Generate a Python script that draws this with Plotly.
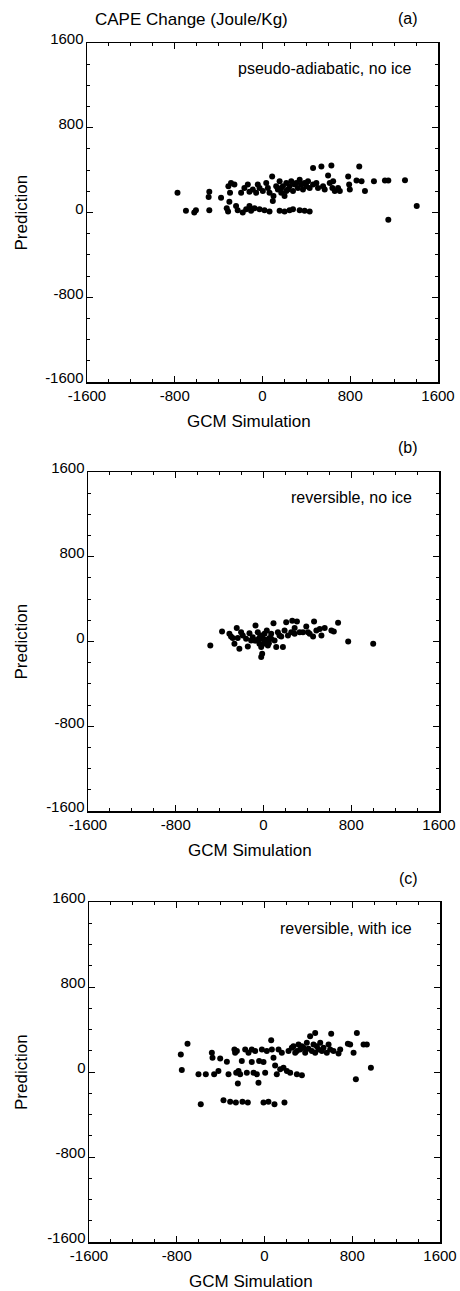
import plotly.graph_objects as go

# ---------------- data ----------------
a_x = [-775, -698, -622, -607, -485, -485, -491, -378, -311, -296, -302, -326, -314, -256,
       -241, -226, -180, -149, -119, -104, -73, -27, 18, 64, 156, 201, 247, 278, 339, 384, 430,
       -195, -165, -134, -119, -88, -58, -43, -27, 3, 34, 49, 64, 88, 94, 100, 125, 140, 156,
       171, 186, 201, 217, 232, 247, 262, 278, 293, 308, 323, 339, 354, 369, 384, 400, 415, 430,
       461, 461, 491, 506, 537, 552, 567, 598, 613, 628, 637, 644, 659, 689, 705, 781, 790, 796,
       857, 882, 903, 934, 1016, 1116, 1147, 1299, 1147, 1406, 171, 217, -287]
a_y = [186, 16, 0, 22, 22, 195, 146, 140, 248, 186, 102, 40, 9, 264,
       62, 22, 0, 31, 62, 16, 40, 31, 22, 9, 16, 9, 22, 31, 22, 16, 9,
       186, 232, 264, 195, 217, 186, 264, 232, 202, 279, 232, 186, 341, 108, 155, 248, 217, 295,
       186, 248, 155, 279, 217, 248, 295, 202, 264, 279, 232, 310, 264, 217, 279, 248, 295, 232,
       419, 264, 279, 232, 434, 248, 217, 350, 279, 443, 232, 295, 202, 232, 202, 341, 264, 217,
       301, 434, 295, 202, 295, 301, 301, 304, -68, 62, 232, 202, 279]

b_x = [-485, -378, -311, -281, -265, -244, -220, -204, -189, -159, -143, -128, -98, -73, -67,
       -52, -37, -31, -21, -21, -12, -6, 9, 18, 30, 40, 55, 70, 91, 101, 116, 131, 162, 177, 192,
       207, 223, 253, 262, 284, 305, 330, 390, 406, 452, 461, 482, 528, 558, 619, 641, 680, 772,
       1000, -82, -43, 0, 24, 49, 70, -12, -113, 146, 284, 360, 513, 421, -235, -296]
b_y = [-38, 94, 72, 34, -22, 128, -69, 88, 56, 25, -47, 78, 41, 150, 9,
       88, -22, 47, -53, -147, -116, 25, 72, -6, 103, -38, 34, 72, 172, 9, -53, 88, 47, -53, 103,
       182, 56, 88, 197, 128, 188, 88, 141, 88, 47, 188, 103, 56, 128, 103, 94, 178, 0,
       -22, 9, 25, -22, 16, -16, 25, 56, 9, 56, 72, 88, 119, 72, 34, 47]

c_x = [-763, -702, -754, -581, -602, -535, -480, -474, -459, -420, -404, -374, -343, -328, -313,
       -274, -268, -261, -237, -243, -222, -207, -201, -176, -161, -146, -152, -116, -100, -85,
       -70, -55, -49, -24, -9, -9, 6, 21, 36, 61, 82, 91, 97, 112, 128, 143, 158, 182, 173, 204,
       219, 234, 249, 280, 295, 310, 325, 341, 356, 371, 386, 401, 416, 432, 447, 462, 462, 477,
       492, 508, 523, 538, 568, 584, 599, 608, 629, 675, 690, 760, 781, 812, 842, 833, 903, 933,
       970, -252, -116, 67, 264, 341, -258, 295]
c_y = [165, 265, 19, -303, -22, -22, 181, 134, -22, 9, 128, -265, 97, -22, -281,
       212, 181, -287, 9, -109, -22, 103, -281, 212, -6, 181, -287, 94, -6, 197,
       -22, -100, 103, 212, 94, -287, -6, 197, -281, 300, 134, -303, 62, -22, 212, 25, 181, -287, 41, 9,
       197, -6, 228, 181, -22, 259, 212, -31, 228, 181, 275, 218, 337, 197, 259, 368, 181, 243,
       212, 275, 197, 228, 181, 259, 212, 359, 197, 175, 212, 265, 259, 181, 368, -69, 259, 259,
       41, 197, 212, 212, 243, 243, -6, 197]

tick_vals = [-1600, -800, 0, 800, 1600]
tick_text = ["-1600", "-800", "0", "800", "1600"]
panel_labels = ["(a)", "(b)", "(c)"]
panel_notes = ["pseudo-adiabatic, no ice", "reversible, no ice", "reversible, with ice"]
title_text = "CAPE Change (Joule/Kg)"
x_title = "GCM Simulation"
y_title = "Prediction"

# ---------------- layout geometry (pixels) ----------------
W, H = 460, 1291
FONT = "Liberation Sans, Arial, sans-serif"
panels = [  # (left, right, top, bottom)
    (87, 438, 43, 382),
    (88, 439, 472, 811),
    (89, 440, 902, 1242),
]

def px(x):
    return x / W

def py(y):
    return 1 - y / H

def note(text, x, y, size, xanchor="center", angle=0):
    return dict(text=text, x=px(x), y=py(y), xref="paper", yref="paper",
                xanchor=xanchor, yanchor="middle", textangle=angle, showarrow=False,
                font=dict(family=FONT, size=size, color="black"))

fig = go.Figure()
series = [(a_x, a_y), (b_x, b_y), (c_x, c_y)]
annotations = []
for i, ((xs, ys), (l, r, t, b)) in enumerate(zip(series, panels)):
    n = "" if i == 0 else str(i + 1)
    fig.add_trace(go.Scatter(x=xs, y=ys, mode="markers",
                             marker=dict(color="black", size=6),
                             xaxis="x" + n, yaxis="y" + n, showlegend=False,
                             hoverinfo="skip"))
    axcommon = dict(range=[-1600, 1600], tickvals=tick_vals, ticktext=tick_text,
                    ticks="inside", ticklen=6, tickwidth=1, tickcolor="black",
                    minor=dict(dtick=200, tick0=0, ticks="inside", ticklen=3,
                               tickcolor="black", tickwidth=1, showgrid=False),
                    showline=True, linecolor="black", linewidth=1.5, mirror="ticks",
                    showgrid=False, zeroline=False, automargin=False, fixedrange=True,
                    tickfont=dict(family=FONT, size=15, color="black"))
    fig.layout["xaxis" + n] = dict(axcommon, domain=[px(l), px(r)], anchor="y" + n,
                                   ticklabelstandoff=-1)
    fig.layout["yaxis" + n] = dict(axcommon, domain=[py(b), py(t)], anchor="x" + n,
                                   ticklabelstandoff=-1, ticklabelshift=-4)
    cx = (l + r) / 2
    annotations.append(note(x_title, cx - 14, b + 39, 17))
    annotations.append(note(y_title, 21, (t + b) / 2, 17, angle=-90))
    annotations.append(note(panel_labels[i], 408, t - 24, 16))
    annotations.append(note(panel_notes[i], 414, t + 26, 16, xanchor="right"))

annotations.append(note(title_text, 93, 20, 17, xanchor="left"))

fig.update_layout(width=W, height=H, autosize=False, template="none",
                  margin=dict(l=0, r=0, t=0, b=0, pad=0),
                  paper_bgcolor="white", plot_bgcolor="white",
                  annotations=annotations, hovermode=False)

fig.write_html("out.html", config={"displayModeBar": False, "staticPlot": True},
               post_script="document.body.style.margin='0';document.body.style.overflow='hidden';")
